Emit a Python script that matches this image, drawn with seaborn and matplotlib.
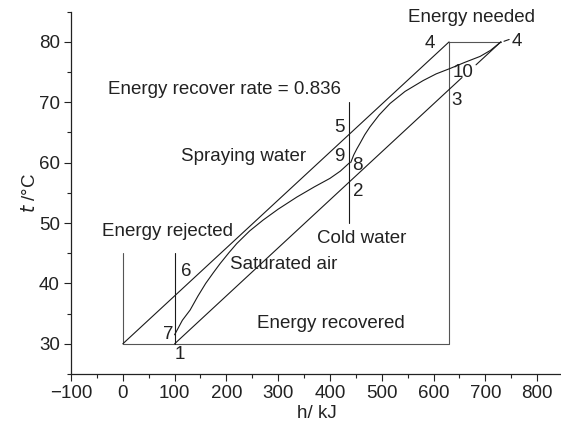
"""Energy recovery diagram: temperature vs enthalpy"""

import matplotlib

matplotlib.use("Agg")
import matplotlib.pyplot as plt
from matplotlib.ticker import MultipleLocator
import seaborn as sns

sns.set_style("ticks")
plt.rcParams["font.family"] = ["Liberation Sans", "DejaVu Sans"]

# Frame lines (h in kJ, t in degC)
rejected_h = [0, 0]
rejected_t = [45, 30]
recovered_h = [0, 630, 630, 730]
recovered_t = [30, 30, 80, 80]
state1_h = [100, 100]
state1_t = [45, 30]
cold_h = [437, 437]
cold_t = [50, 70]

# Straight process lines
line_0_4_h = [0, 630]
line_0_4_t = [30, 80]
line_1_3_h = [100, 655]
line_1_3_t = [30, 74.1]
line_10_4_h = [682, 730]
line_10_4_t = [76.2, 80]
leader_h = [736, 746]
leader_t = [80.1, 80.4]

# Saturated air curve (7 -> 9/8)
curve_a_h = [100, 105, 115, 130, 145, 160, 175, 188, 205, 220, 245, 271,
             300, 336, 370, 400, 420, 438]
curve_a_t = [31.5, 32.3, 33.9, 35.6, 37.9, 40.0, 41.8, 43.3, 45.1, 46.6,
             48.7, 50.5, 52.3, 54.3, 56.0, 57.4, 58.6, 60.0]

# Spraying water curve (8 -> 4)
curve_b_h = [440, 446, 452, 458, 467, 477, 495, 516, 545, 580, 605, 632,
             660, 690, 710, 730]
curve_b_t = [60.0, 61.3, 62.3, 63.2, 64.6, 65.9, 67.9, 69.8, 71.8, 73.6,
             74.7, 75.6, 76.6, 77.6, 78.6, 80.0]

# Annotations: (text, h, t)
labels = [
    ("Energy needed", 674, 84.1),
    ("4", 592, 79.8),
    ("4", 760, 80.0),
    ("10", 657, 75.0),
    ("3", 645, 70.3),
    ("Energy recover rate = 0.836", 197, 72.1),
    ("5", 419, 65.9),
    ("Spraying water", 234, 61.0),
    ("9", 419, 61.1),
    ("8", 452, 59.6),
    ("2", 455, 55.2),
    ("Cold water", 462, 47.5),
    ("Energy rejected", 86, 48.6),
    ("6", 122, 42.0),
    ("Saturated air", 311, 43.2),
    ("7", 88, 31.5),
    ("1", 110, 28.2),
    ("Energy recovered", 402, 33.3),
]

fig = plt.figure(figsize=(5.61, 4.30), dpi=100)
ax = fig.add_axes([0.1266, 0.1302, 0.877, 0.8426])

ink = "#1a1a1a"
frame = "#555555"
lw = 0.8

for hh, tt, col in [
    (rejected_h, rejected_t, frame),
    (recovered_h, recovered_t, frame),
    (state1_h, state1_t, ink),
    (cold_h, cold_t, ink),
    (line_0_4_h, line_0_4_t, ink),
    (line_1_3_h, line_1_3_t, ink),
    (line_10_4_h, line_10_4_t, ink),
    (leader_h, leader_t, ink),
    (curve_a_h, curve_a_t, ink),
    (curve_b_h, curve_b_t, ink),
]:
    sns.lineplot(x=hh, y=tt, sort=False, estimator=None, color=col, lw=lw, ax=ax)

for text, hx, ty in labels:
    ax.text(hx, ty, text, ha="center", va="center", fontsize=13.5, color="#222222")

ax.set_xlim(-100, 850)
ax.set_ylim(25, 85)
ax.xaxis.set_major_locator(MultipleLocator(100))
ax.xaxis.set_minor_locator(MultipleLocator(50))
ax.yaxis.set_minor_locator(MultipleLocator(5))
ax.set_yticks(range(30, 81, 10))
ax.tick_params(axis="both", which="major", length=5, width=0.8, labelsize=13.5,
               colors="#222222", pad=3)
ax.tick_params(axis="both", which="minor", length=3, width=0.8, colors="#222222")

ax.set_xlabel("h/ kJ", fontsize=13.5, color="#222222", labelpad=2)
ax.set_ylabel(r"$\it{t}$ /°C", fontsize=13.5, color="#222222", labelpad=0)

sns.despine(ax=ax)
for side in ["left", "bottom"]:
    ax.spines[side].set_linewidth(0.9)
    ax.spines[side].set_color("#222222")

plt.savefig("out.png", dpi=100)
plt.close()
